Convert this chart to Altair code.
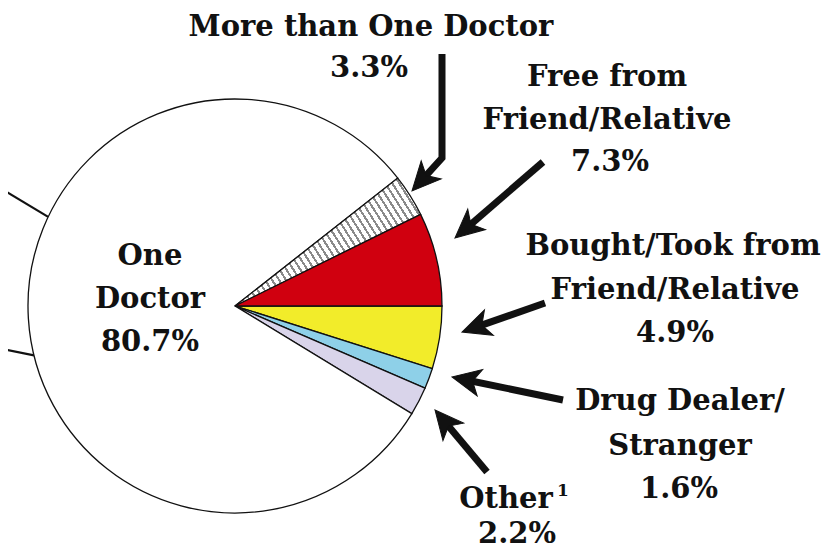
import math
import altair as alt
import pandas as pd

# ---------------- data ----------------
names = ["Bought/Took from Friend/Relative", "Drug Dealer/Stranger", "Other",
         "One Doctor", "More than One Doctor", "Free from Friend/Relative"]
values = [4.9, 1.6, 2.2, 80.7, 3.3, 7.3]
name_lines = [["Bought/Took from", "Friend/Relative"], ["Drug Dealer/", "Stranger"], ["Other"],
              ["One", "Doctor"], ["More than One Doctor"], ["Free from", "Friend/Relative"]]

# ---------------- styles / layout ----------------
colors = ["#F2EC2A", "#8ED0E8", "#D9D4EA", "#FFFFFF", "#FFFFFF", "#D0000F"]
HATCHED = "More than One Doctor"
W, H = 818, 544
CX, CY, R = 235, 306, 207
FONT = "DejaVu Serif"
FS = 29

# text-line centres (x, y) for each label line, last one is the percentage
text_pos = {
    "Bought/Took from Friend/Relative": [(673, 246), (675, 290), (675, 333)],
    "Drug Dealer/Stranger": [(680, 401), (680, 446), (679, 489)],
    "Other": [(506, 499), (517, 534)],
    "One Doctor": [(150, 256), (150, 299), (150, 342)],
    "More than One Doctor": [(371, 27), (369, 68)],
    "Free from Friend/Relative": [(607, 77), (607, 120), (610, 162)],
}
# arrow paths: tail ... tip
arrow_paths = [
    [(442, 54), (442, 158), (412, 191)],
    [(543, 162), (455, 238)],
    [(545, 303), (462, 332)],
    [(563, 400), (452, 377)],
    [(487, 472), (435, 410)],
]
connector_angles = [154.5, 193.8]   # degrees, math convention
connector_slopes = [0.6, 0.2]

# ---------------- build tables ----------------
pie = pd.DataFrame({"name": names, "value": values, "idx": list(range(len(names)))})

rows = []
for nm, v, lines in zip(names, values, name_lines):
    texts = lines + [f"{v:.1f}%"]
    for t, (x, y) in zip(texts, text_pos[nm]):
        rows.append({"text": t, "x": x, "y": y})
labels = pd.DataFrame(rows)

shaft_rows, head_rows = [], []
HEAD = 30
for i, path in enumerate(arrow_paths):
    (px, py), (tx, ty) = path[-2], path[-1]
    dx, dy = tx - px, ty - py
    L = math.hypot(dx, dy)
    ux, uy = dx / L, dy / L
    pts = path[:-1] + [(tx - ux * 11, ty - uy * 11)]
    for j, (x, y) in enumerate(pts):
        shaft_rows.append({"id": i, "seq": j, "x": x, "y": y})
    ang = math.degrees(math.atan2(ux, -uy)) % 360
    head_rows.append({"x": tx - ux * HEAD / 2, "y": ty - uy * HEAD / 2, "ang": ang})
shafts = pd.DataFrame(shaft_rows)
heads = pd.DataFrame(head_rows)

con_rows = []
for k, (a, s) in enumerate(zip(connector_angles, connector_slopes)):
    x0 = CX + R * math.cos(math.radians(a))
    y0 = CY - R * math.sin(math.radians(a))
    x1 = 0
    y1 = y0 - (x0 - x1) * s
    con_rows += [{"id": k, "seq": 0, "x": x0, "y": y0}, {"id": k, "seq": 1, "x": x1, "y": y1}]
connectors = pd.DataFrame(con_rows)

# hatch gradient (stripes perpendicular to the slice direction)
n = 38
stops = []
for i in range(n):
    a, b, c = i / n, (i + 0.5) / n, (i + 0.85) / n
    stops += [alt.GradientStop(offset=a, color="#FFFFFF"),
              alt.GradientStop(offset=b, color="#FFFFFF"),
              alt.GradientStop(offset=b, color="#8A8A8A"),
              alt.GradientStop(offset=c, color="#8A8A8A"),
              alt.GradientStop(offset=c, color="#FFFFFF")]
stops.append(alt.GradientStop(offset=1, color="#FFFFFF"))
hatch = alt.Gradient(gradient="linear", stops=stops, x1=0, y1=1, x2=1.2, y2=0.48)

xs = alt.Scale(domain=[8, 8 + W], nice=False, zero=False)
ys = alt.Scale(domain=[8, 8 + H], nice=False, zero=False, reverse=True)

arcs = alt.Chart(pie).mark_arc(stroke="#111111", strokeWidth=1.3, radius=R).encode(
    theta=alt.Theta("value:Q", stack=True,
                    scale=alt.Scale(range=[math.pi / 2, math.pi / 2 + 2 * math.pi])),
    order=alt.Order("idx:Q"),
    color=alt.condition(alt.datum.name == HATCHED, alt.value(hatch),
                        alt.Color("name:N", scale=alt.Scale(domain=names, range=colors), legend=None)),
    x=alt.XDatum(CX, type="quantitative", scale=xs, axis=None),
    y=alt.YDatum(CY, type="quantitative", scale=ys, axis=None),
)

conn = alt.Chart(connectors).mark_line(color="#111111", strokeWidth=2.2, clip=False).encode(
    x=alt.X("x:Q", scale=xs, axis=None), y=alt.Y("y:Q", scale=ys, axis=None),
    detail="id:N", order="seq:Q")

shaft = alt.Chart(shafts).mark_line(color="#111111", strokeWidth=7, strokeCap="butt",
                                    strokeJoin="miter").encode(
    x=alt.X("x:Q", scale=xs, axis=None), y=alt.Y("y:Q", scale=ys, axis=None),
    detail="id:N", order="seq:Q")

head = alt.Chart(heads).mark_point(
    shape="M0,-1L0.9,0.9L0,0.4L-0.9,0.9Z", filled=True, fill="#111111", stroke="#111111",
    strokeWidth=1, opacity=1, size=HEAD * HEAD).encode(
    x=alt.X("x:Q", scale=xs, axis=None), y=alt.Y("y:Q", scale=ys, axis=None),
    angle=alt.Angle("ang:Q", scale=None))

text = alt.Chart(labels).mark_text(font=FONT, fontSize=FS, fontWeight="bold", color="#111111",
                                   align="center", baseline="middle").encode(
    x=alt.X("x:Q", scale=xs, axis=None), y=alt.Y("y:Q", scale=ys, axis=None), text="text:N")

sup = alt.Chart(pd.DataFrame({"text": ["1"], "x": [563], "y": [491]})).mark_text(
    font=FONT, fontSize=17, fontWeight="bold", color="#111111", align="center",
    baseline="middle").encode(
    x=alt.X("x:Q", scale=xs, axis=None), y=alt.Y("y:Q", scale=ys, axis=None), text="text:N")

chart = alt.layer(conn, arcs, shaft, head, text, sup).properties(
    width=W, height=H, padding=0, autosize=alt.AutoSizeParams(type="none")
).configure_view(stroke=None)

chart.save("out.html", embed_options={"renderer": "svg", "actions": False})
